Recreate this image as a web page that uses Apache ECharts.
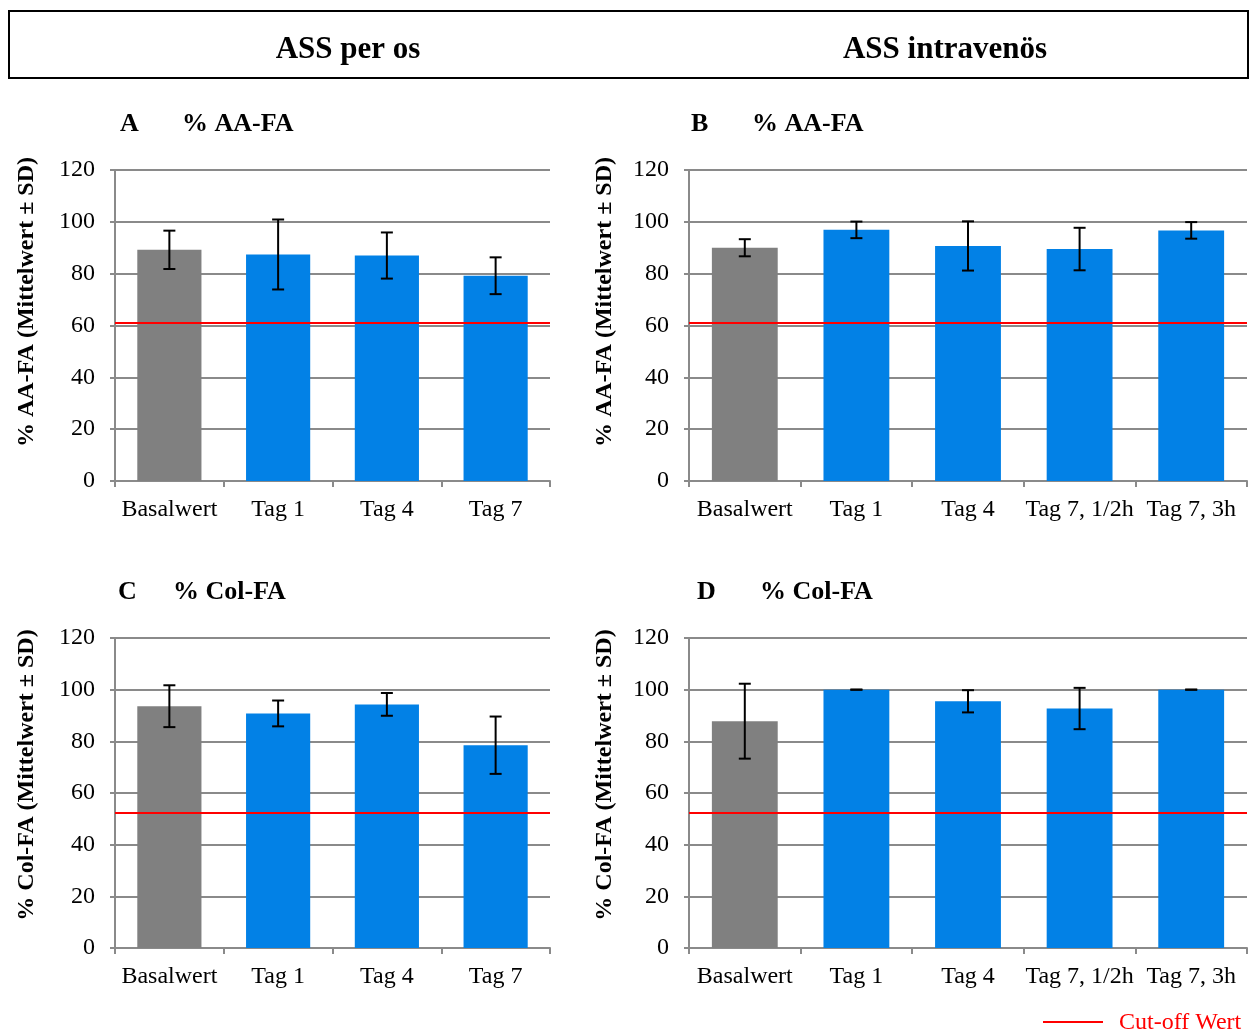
<!DOCTYPE html>
<html>
<head>
<meta charset="utf-8">
<script src="https://cdn.jsdelivr.net/npm/echarts@6/dist/echarts.min.js"></script>
<style>html,body{margin:0;padding:0;background:#fff}#c{width:1256px;height:1031px}</style>
</head>
<body>
<div id="c"></div>
<script>
const catOs = ['Basalwert', 'Tag 1', 'Tag 4', 'Tag 7'];
const catIv = ['Basalwert', 'Tag 1', 'Tag 4', 'Tag 7, 1/2h', 'Tag 7, 3h'];
const aaOsMean = [89.2, 87.4, 87.0, 79.2];
const aaOsSD = [7.4, 13.5, 8.9, 7.1];
const aaIvMean = [90.0, 96.9, 90.7, 89.5, 96.7];
const aaIvSD = [3.3, 3.2, 9.5, 8.2, 3.2];
const colOsMean = [93.6, 90.8, 94.3, 78.5];
const colOsSD = [8.1, 5.0, 4.4, 11.1];
const colIvMean = [87.8, 100, 95.5, 92.7, 100];
const colIvSD = [14.5, 0, 4.3, 8.0, 0];
const cutoffAA = 61.2;
const cutoffCol = 52.4;
const yTicks = [0, 20, 40, 60, 80, 100, 120];

const FONT = '"Liberation Serif", "Times New Roman", serif';
const GRAY = '#8a8a8a';
const BAR_GRAY = '#808080';
const BAR_BLUE = '#0281E6';

const chart = echarts.init(document.getElementById('c'), null, {renderer: 'canvas'});

const grids = [
  {left: 115, top: 170, width: 435, height: 311},
  {left: 689, top: 170, width: 558, height: 311},
  {left: 115, top: 638, width: 435, height: 310},
  {left: 689, top: 638, width: 558, height: 310}
];
const panels = [
  {cats: catOs, mean: aaOsMean, sd: aaOsSD, cut: cutoffAA},
  {cats: catIv, mean: aaIvMean, sd: aaIvSD, cut: cutoffAA},
  {cats: catOs, mean: colOsMean, sd: colOsSD, cut: cutoffCol},
  {cats: catIv, mean: colIvMean, sd: colIvSD, cut: cutoffCol}
];

const xAxes = [], yAxes = [], series = [];
panels.forEach((p, i) => {
  xAxes.push({
    type: 'category', gridIndex: i, data: p.cats,
    axisLine: {show: true, lineStyle: {color: GRAY, width: 2}},
    axisTick: {show: true, alignWithLabel: false, length: 6, lineStyle: {color: GRAY, width: 2}},
    axisLabel: {interval: 0, color: '#000', fontFamily: FONT, fontSize: 24, margin: 17}
  });
  yAxes.push({
    type: 'value', gridIndex: i, min: 0, max: 120, interval: 20,
    axisLine: {show: true, lineStyle: {color: GRAY, width: 2}},
    axisTick: {show: true, length: 5, lineStyle: {color: GRAY, width: 2}},
    splitLine: {show: true, lineStyle: {color: GRAY, width: 2}},
    axisLabel: {color: '#000', fontFamily: FONT, fontSize: 24, margin: 20,
      formatter: v => yTicks.indexOf(v) >= 0 ? String(v) : ''}
  });
  series.push({
    type: 'bar', xAxisIndex: i, yAxisIndex: i, barCategoryGap: '41%',
    data: p.mean.map((v, k) => ({value: v, itemStyle: {color: k === 0 ? BAR_GRAY : BAR_BLUE}})),
    markLine: {
      silent: true, symbol: ['none', 'none'], label: {show: false},
      lineStyle: {color: '#ff0000', width: 2, type: 'solid'},
      data: [{yAxis: p.cut}]
    },
    animation: false
  });
  series.push({
    type: 'custom', xAxisIndex: i, yAxisIndex: i, z: 5,
    data: p.mean.map((v, k) => [k, v - p.sd[k], v + p.sd[k]]),
    encode: {x: 0, y: [1, 2]},
    renderItem: function (params, api) {
      const lo = api.coord([api.value(0), api.value(1)]);
      const hi = api.coord([api.value(0), api.value(2)]);
      const hw = 6;
      const st = {stroke: '#000', lineWidth: 2};
      return {type: 'group', children: [
        {type: 'line', shape: {x1: lo[0], y1: lo[1], x2: hi[0], y2: hi[1]}, style: st},
        {type: 'line', shape: {x1: lo[0] - hw, y1: lo[1], x2: lo[0] + hw, y2: lo[1]}, style: st},
        {type: 'line', shape: {x1: hi[0] - hw, y1: hi[1], x2: hi[0] + hw, y2: hi[1]}, style: st}
      ]};
    },
    animation: false
  });
});

const yName = ['% AA-FA (Mittelwert ± SD)', '% AA-FA (Mittelwert ± SD)', '% Col-FA (Mittelwert ± SD)', '% Col-FA (Mittelwert ± SD)'];
const yNamePos = [[27, 302], [605, 302], [27, 775], [605, 775]];
const TF = 'bold 26px ' + FONT;
const graphics = [
  {type: 'rect', shape: {x: 9, y: 11, width: 1239, height: 67}, style: {fill: 'none', stroke: '#000', lineWidth: 2}},
  {type: 'text', x: 348, y: 50, style: {text: 'ASS per os', font: 'bold 31px ' + FONT, fill: '#000', textAlign: 'center', textVerticalAlign: 'middle'}},
  {type: 'text', x: 945, y: 50, style: {text: 'ASS intravenös', font: 'bold 31px ' + FONT, fill: '#000', textAlign: 'center', textVerticalAlign: 'middle'}},
  {type: 'text', x: 120, y: 124, style: {text: 'A', font: TF, fill: '#000', textVerticalAlign: 'middle'}},
  {type: 'text', x: 182, y: 124, style: {text: '% AA-FA', font: TF, fill: '#000', textVerticalAlign: 'middle'}},
  {type: 'text', x: 691, y: 124, style: {text: 'B', font: TF, fill: '#000', textVerticalAlign: 'middle'}},
  {type: 'text', x: 752, y: 124, style: {text: '% AA-FA', font: TF, fill: '#000', textVerticalAlign: 'middle'}},
  {type: 'text', x: 118, y: 592, style: {text: 'C', font: TF, fill: '#000', textVerticalAlign: 'middle'}},
  {type: 'text', x: 173, y: 592, style: {text: '% Col-FA', font: TF, fill: '#000', textVerticalAlign: 'middle'}},
  {type: 'text', x: 697, y: 592, style: {text: 'D', font: TF, fill: '#000', textVerticalAlign: 'middle'}},
  {type: 'text', x: 760, y: 592, style: {text: '% Col-FA', font: TF, fill: '#000', textVerticalAlign: 'middle'}},
  {type: 'line', shape: {x1: 1043, y1: 1022, x2: 1103, y2: 1022}, style: {stroke: '#ff0000', lineWidth: 2}},
  {type: 'text', x: 1119, y: 1023, style: {text: 'Cut-off Wert', font: '24px ' + FONT, fill: '#ff0000', textVerticalAlign: 'middle'}}
];
yName.forEach((t, i) => {
  graphics.push({type: 'text', x: yNamePos[i][0], y: yNamePos[i][1], rotation: Math.PI / 2,
    style: {text: t, font: 'bold 24px ' + FONT, fill: '#000', textAlign: 'center', textVerticalAlign: 'middle'}});
});

chart.setOption({
  animation: false,
  grid: grids,
  xAxis: xAxes,
  yAxis: yAxes,
  series: series,
  graphic: graphics
});
</script>
</body>
</html>
